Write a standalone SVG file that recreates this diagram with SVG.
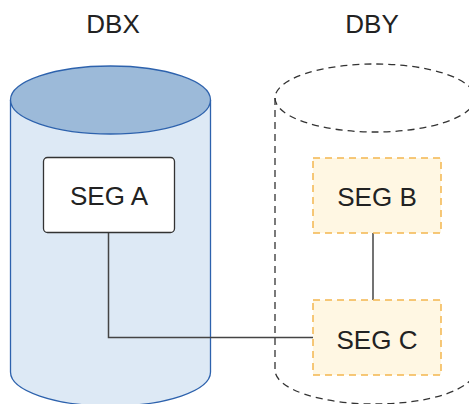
<svg xmlns="http://www.w3.org/2000/svg" width="469" height="404" viewBox="0 0 469 404">
<style>
text{font-family:"Liberation Sans",Arial,sans-serif;font-size:26px;fill:#222;text-anchor:middle}
.seg{fill:#fff7e3;stroke:#f4b74f;stroke-width:1.5;stroke-dasharray:7 5}
.dash{fill:none;stroke:#333;stroke-width:1.3;stroke-dasharray:7 5}
.conn{fill:none;stroke:#444;stroke-width:1.5}
</style>
<rect width="469" height="404" fill="#fff"/>
<g id="DBX">
<path d="M10.5,100 V372 A100,34 0 0 0 210.5,372 V100" fill="#dde9f5" stroke="#2d62ad" stroke-width="1.3"/>
<ellipse cx="110.5" cy="100" rx="100" ry="34" fill="#9cbad9" stroke="#2d62ad" stroke-width="1.3"/>
<text x="113" y="33">DBX</text>
</g>
<g id="DBY">
<path class="dash" d="M275,98 V370 A100,34 0 0 0 475,370 V98"/>
<ellipse class="dash" cx="375" cy="98" rx="100" ry="34"/>
<text x="372" y="33">DBY</text>
</g>
<g id="connectors">
<path class="conn" d="M108.5,232 V337.5 H313"/>
<path class="conn" d="M373,233 V300"/>
</g>
<g id="SEGA">
<rect x="43.5" y="157.5" width="131" height="75" rx="4" fill="#fff" stroke="#333" stroke-width="1.3"/>
<text x="109" y="205">SEG A</text>
</g>
<g id="SEGB">
<rect class="seg" x="313" y="158" width="128" height="75"/>
<text x="377" y="206">SEG B</text>
</g>
<g id="SEGC">
<rect class="seg" x="313" y="300" width="128" height="75"/>
<text x="377" y="349">SEG C</text>
</g>
</svg>
